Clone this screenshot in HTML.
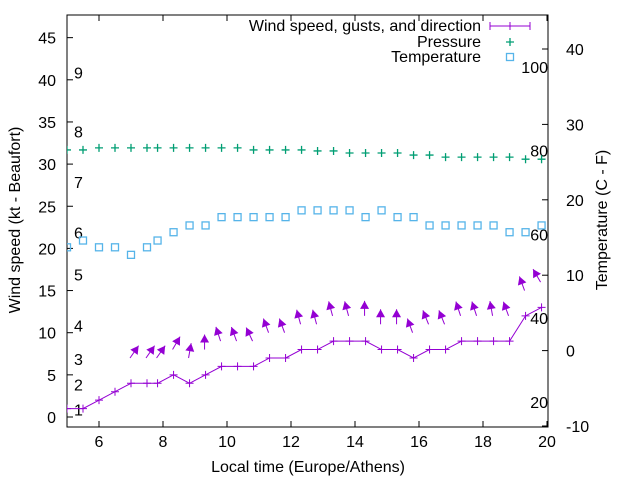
<!DOCTYPE html>
<html><head><meta charset="utf-8"><style>
body{margin:0;background:#fff}
svg{display:block;font-family:"Liberation Sans",sans-serif}
</style></head><body>
<svg id="c" width="640" height="480" xmlns="http://www.w3.org/2000/svg"></svg>
<script>
const times=[5,5.5,6,6.5,7,7.5,7.83,8.33,8.83,9.33,9.83,10.33,10.83,11.33,11.83,12.33,12.83,13.33,13.83,14.33,14.83,15.33,15.83,16.33,16.83,17.33,17.83,18.33,18.83,19.33,19.83];
const windKt=[1,1,2,3,4,4,4,5,4,5,6,6,6,7,7,8,8,9,9,9,8,8,7,8,8,9,9,9,9,12,13];
const gustKt=[7,7,7,8,7,8,9,9,9,10,10,11,11,12,12,12,11,11,10,11,11,12,12,12,12,15,16];
const gustDirDeg=[35,35,35,30,10,0,-18,-20,-25,-20,-20,-15,-15,-15,-15,0,0,0,-20,-22,-22,-18,-18,-10,-20,-20,-30];
const gustStart=4;
const pressureHpa=[1016.9,1016.9,1017.1,1017.1,1017.1,1017.1,1017.1,1017.1,1017.1,1017.1,1017.1,1017.1,1016.9,1016.9,1016.9,1016.9,1016.8,1016.8,1016.6,1016.6,1016.6,1016.6,1016.4,1016.4,1016.2,1016.2,1016.2,1016.2,1016.2,1016.0,1016.0];
const tempC=[13.7,14.6,13.7,13.7,12.7,13.7,14.6,15.7,16.6,16.6,17.7,17.7,17.7,17.7,17.7,18.6,18.6,18.6,18.6,17.7,18.6,17.7,17.7,16.6,16.6,16.6,16.6,16.6,15.7,15.7,16.6];
const xTicks=[6,8,10,12,14,16,18,20];
const yTicks=[0,5,10,15,20,25,30,35,40,45];
const y2Ticks=[-10,0,10,20,30,40];
const beaufortLabels=[1,2,3,4,5,6,7,8,9];
const beaufortKt=[1,4,7,11,17,22,28,34,41];
const fahrenheitLabels=[20,40,60,80,100];

const L=67,R=548,T=15,B=427;
const X=t=>L+(t-5)*32;
const Y=v=>417-v*8.43;
const Y2=c=>350.6-c*7.54;
const YP=p=>427-(p-990)*10.3;
const svg=document.getElementById('c');
const NS='http://www.w3.org/2000/svg';
function mk(tag,attrs,parent){const e=document.createElementNS(NS,tag);for(const k in attrs)e.setAttribute(k,attrs[k]);(parent||svg).appendChild(e);return e;}
function txt(s,x,y,anchor,parent,extra){const e=mk('text',Object.assign({x:x,y:y,'font-size':'16','text-anchor':anchor||'middle',fill:'#000'},extra||{}),parent);e.textContent=s;return e;}

mk('defs',{}).innerHTML='<clipPath id="pc"><rect x="67" y="15" width="481" height="412"/></clipPath>';

const axes=mk('g',{});


xTicks.forEach(t=>{
  mk('line',{x1:X(t),x2:X(t),y1:B,y2:B-6,stroke:'#000'},axes);
  mk('line',{x1:X(t),x2:X(t),y1:T,y2:T+6,stroke:'#000'},axes);
  const e=txt(String(t),X(t),447,'middle',axes);
  
  
});
yTicks.forEach(v=>{
  mk('line',{x1:L,x2:L+6,y1:Y(v),y2:Y(v),stroke:'#000'},axes);
  const e=txt(String(v),56,Y(v)+6,'end',axes);
  
  
});
y2Ticks.forEach(v=>{
  mk('line',{x1:R-6,x2:R,y1:Y2(v),y2:Y2(v),stroke:'#000'},axes);
  const e=txt(String(v),566,Y2(v)+6,'start',axes);
  
  
});
beaufortLabels.forEach((b,i)=>{
  const e=txt(String(b),74,Y(beaufortKt[i])+7,'start',axes);
  
  
});
fahrenheitLabels.forEach(f=>{
  const e=txt(String(f),548,Y2((f-32)*5/9)+7,'end',axes);
  
  
});
const border=mk('rect',{x:L,y:T,width:R-L,height:B-T,fill:'none',stroke:'#000'},axes);



let e=txt('Local time (Europe/Athens)',308,472,'middle');


e=txt('Wind speed (kt - Beaufort)',0,0,'middle',svg,{transform:'translate(20,220) rotate(-90)'});


e=txt('Temperature (C - F)',0,0,'middle',svg,{transform:'translate(607,220) rotate(-90)'});



const plot=mk('g',{'clip-path':'url(#pc)'});



pressureHpa.forEach((p,i)=>{
  const x=X(times[i]),y=YP(p);
  const g=mk('path',{d:`M${x-4} ${y}H${x+4}M${x} ${y-4}V${y+4}`,stroke:'#009e73','stroke-width':1.3},plot);
  
  
});
tempC.forEach((c,i)=>{
  const r=mk('rect',{x:X(times[i])-3.5,y:Y2(c)-3.5,width:7,height:7,fill:'none',stroke:'#56b4e9','stroke-width':1.3},plot);
  
  
});
const wl=mk('polyline',{points:times.map((t,i)=>X(t)+','+Y(windKt[i])).join(' '),fill:'none',stroke:'#9400d3','stroke-width':1},plot);


times.forEach((t,i)=>{
  const x=X(t),y=Y(windKt[i]);
  const g=mk('path',{d:`M${x-4} ${y}H${x+4}M${x} ${y-4}V${y+4}`,stroke:'#9400d3','stroke-width':1},plot);
  
  
});
gustKt.forEach((g,i)=>{
  const t=times[i+gustStart];
  const a=gustDirDeg[i]*Math.PI/180;
  const x0=X(t)-1,y0=Y(g);
  const dx=Math.sin(a),dy=-Math.cos(a);
  const x1=x0+dx*15,y1=y0+dy*15;
  const px=-dy,py=dx;
  const bx=x1-dx*8,by=y1-dy*8;
  const grp=mk('g',{},plot);
  
  
  mk('line',{x1:x0,y1:y0,x2:x1,y2:y1,stroke:'#9400d3','stroke-width':1},grp);
  mk('polygon',{points:`${x1},${y1} ${bx+px*4.5},${by+py*4.5} ${bx-px*4.5},${by-py*4.5}`,fill:'#9400d3'},grp);
});

const lg=mk('g',{});


e=txt('Wind speed, gusts, and direction',481,31,'end',lg);


mk('path',{d:'M490 26H530M490 22V30M530 22V30M510 22V30',stroke:'#9400d3','stroke-width':1},lg);
e=txt('Pressure',481,47,'end',lg);


mk('path',{d:'M506 42H514M510 38V46',stroke:'#009e73','stroke-width':1.3},lg);
e=txt('Temperature',481,62,'end',lg);


mk('rect',{x:506.5,y:53.5,width:7,height:7,fill:'none',stroke:'#56b4e9','stroke-width':1.3},lg);
</script>
</body></html>
